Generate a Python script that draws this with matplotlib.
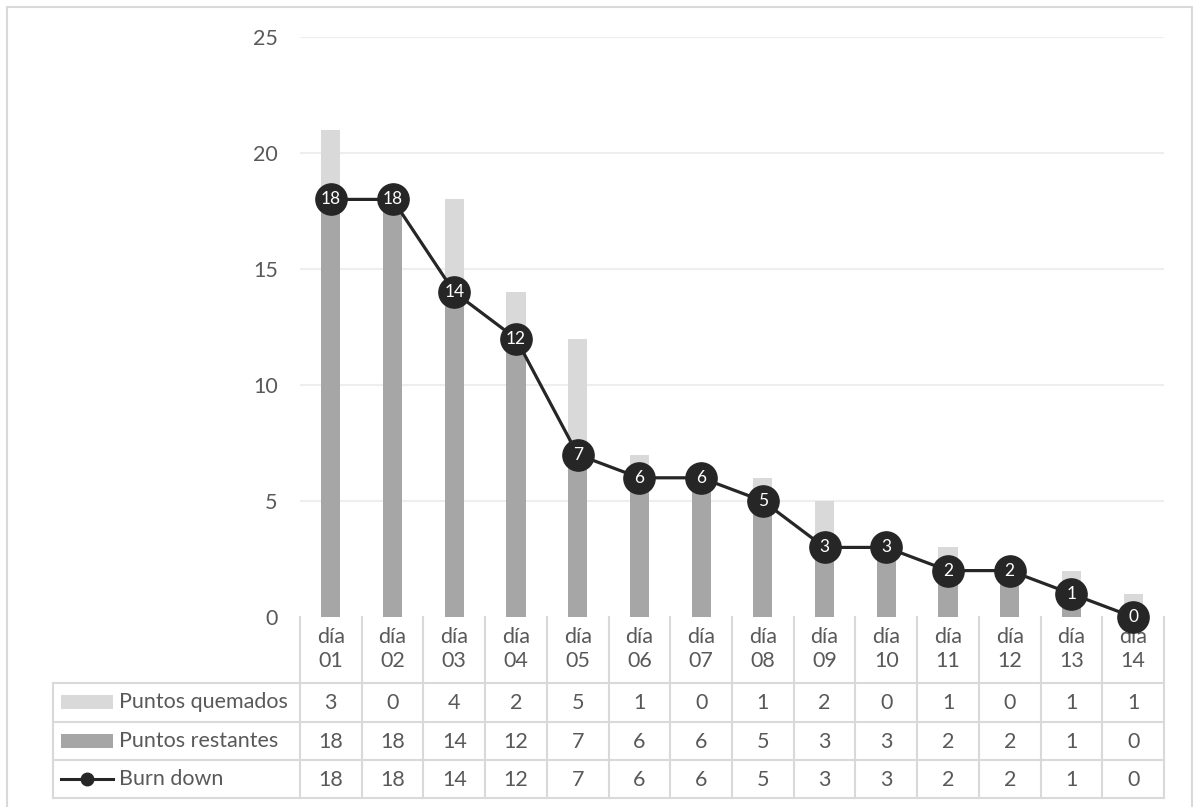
import numpy as np
import matplotlib.pyplot as plt
from matplotlib.patches import Rectangle
from matplotlib.lines import Line2D

# datos del sprint
dias = ['01', '02', '03', '04', '05', '06', '07', '08', '09', '10', '11', '12', '13', '14']
quemados = [3, 0, 4, 2, 5, 1, 0, 1, 2, 0, 1, 0, 1, 1]
restantes = [18, 18, 14, 12, 7, 6, 6, 5, 3, 3, 2, 2, 1, 0]
burn_down = [18, 18, 14, 12, 7, 6, 6, 5, 3, 3, 2, 2, 1, 0]
series = ['Puntos quemados', 'Puntos restantes', 'Burn down']
yticks = [0, 5, 10, 15, 20, 25]

plt.rcParams['font.family'] = ['Lato', 'DejaVu Sans']
txt = '#595959'
claro = '#d9d9d9'
oscuro = '#a6a6a6'
negro = '#262626'
borde = '#d9d9d9'
fs = 15.5

W, H = 1193, 807
fig = plt.figure(figsize=(W / 100, H / 100), dpi=100)


def caja(x0, y0, x1, y1):
    # pixeles (origen arriba a la izquierda) -> fraccion de figura
    return [x0 / W, 1 - y1 / H, (x1 - x0) / W, (y1 - y0) / H]


# marco exterior
fig.patches.append(Rectangle((7 / W, -0.05), (1192 - 7) / W, 1 - 7 / H + 0.05,
                             transform=fig.transFigure, fill=False,
                             edgecolor=borde, lw=1.5))

n = len(dias)
x = np.arange(n)

# tabla de datos debajo del grafico
tab = fig.add_axes(caja(40, 610, 1180, 805))
tab.set_zorder(1)
col_w = (1164 - 300) / n
lab_w = (300 - 53) / col_w
tab.set_xlim(-0.5 - (300 - 40) / col_w, n - 0.5 + (1180 - 1164) / col_w)
tab.set_ylim(805, 610)
tab.axis('off')

filas = [683, 722, 760, 798]
izq = -0.5 - lab_w
der = n - 0.5
for yy in filas:
    tab.plot([izq, der], [yy, yy], color=borde, lw=1.5)
tab.plot([izq, izq], [683, 798], color=borde, lw=1.5)
for i in range(n + 1):
    tab.plot([i - 0.5, i - 0.5], [617, 798], color=borde, lw=1.5)

for i, d in enumerate(dias):
    tab.text(i, 637, 'día', ha='center', va='center', fontsize=fs, color=txt)
    tab.text(i, 661, d, ha='center', va='center', fontsize=fs, color=txt)

valores = [quemados, restantes, burn_down]
for r, (nombre, vals) in enumerate(zip(series, valores)):
    yc = (filas[r] + filas[r + 1]) / 2
    for i, v in enumerate(vals):
        tab.text(i, yc + 1, str(v), ha='center', va='center', fontsize=fs, color=txt)
    tab.text(izq + (119 - 53) / col_w, yc, nombre, ha='left', va='center',
             fontsize=fs, color=txt)

# claves de la leyenda dentro de la tabla
k0 = izq + (61 - 53) / col_w
k1 = izq + (113 - 53) / col_w
for r, c in enumerate([claro, oscuro]):
    yc = (filas[r] + filas[r + 1]) / 2
    tab.add_patch(Rectangle((k0, yc - 7), k1 - k0, 14, facecolor=c, edgecolor='none'))
yc = (filas[2] + filas[3]) / 2
tab.add_line(Line2D([k0, k1], [yc, yc], color=negro, lw=2.2))
tab.plot([(k0 + k1) / 2], [yc], 'o', color=negro, markersize=9)

# grafico principal
ax = fig.add_axes(caja(300, 37, 1164, 617))
ax.set_zorder(2)
ax.patch.set_visible(False)
ax.set_xlim(-0.5, n - 0.5)
ax.set_ylim(0, 25)

ancho = 0.31
ax.bar(x, restantes, ancho, color=oscuro, zorder=2)
ax.bar(x, quemados, ancho, bottom=restantes, color=claro, zorder=2)
ax.plot(x, burn_down, color=negro, lw=2.3, marker='o', markersize=22.5,
        zorder=4, clip_on=False)
for xi, v in zip(x, burn_down):
    ax.text(xi, v, str(v), ha='center', va='center', color='white',
            fontsize=12.5, zorder=5)

ax.set_yticks(yticks)
ax.set_yticklabels([str(t) for t in yticks], fontsize=fs, color=txt)
ax.tick_params(axis='y', length=0, pad=16)
ax.set_xticks([])
for t in yticks[1:]:
    ax.axhline(t, color='#eeeeee', lw=1.5, zorder=1)
for s in ['top', 'right', 'left', 'bottom']:
    ax.spines[s].set_visible(False)

fig.savefig('out.png', dpi=100)
